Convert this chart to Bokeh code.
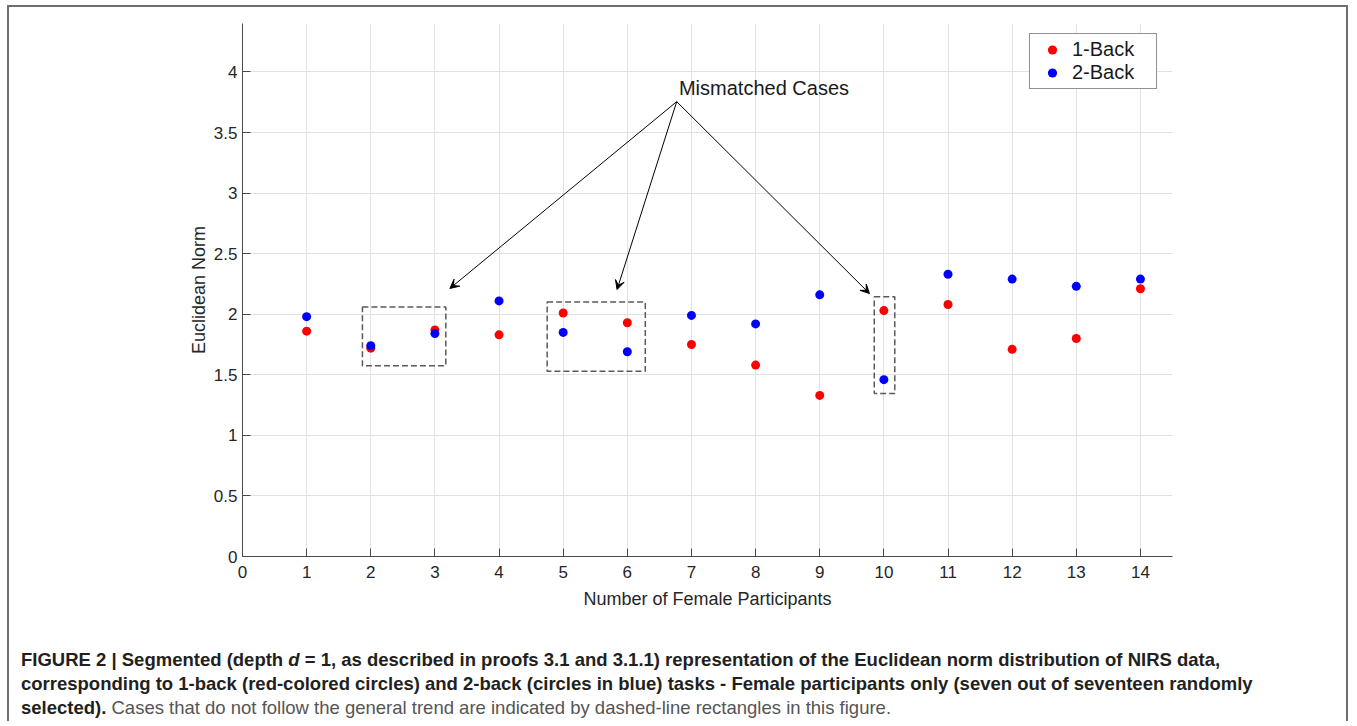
from bokeh.plotting import figure
from bokeh.layouts import column
from bokeh.models import (Arrow, VeeHead, Label, Legend, LegendItem, FixedTicker,
                          NumeralTickFormatter, Range1d, Div)
from bokeh.embed import file_html
from bokeh.resources import INLINE

# ---- data ----
participants = list(range(1, 15))
one_back = [1.86, 1.72, 1.87, 1.83, 2.01, 1.93, 1.75, 1.58, 1.33, 2.03, 2.08, 1.71, 1.80, 2.21]
two_back = [1.98, 1.74, 1.84, 2.11, 1.85, 1.69, 1.99, 1.92, 2.16, 1.46, 2.33, 2.29, 2.23, 2.29]

x_ticks = list(range(0, 15))
y_ticks = [0, 0.5, 1, 1.5, 2, 2.5, 3, 3.5, 4]

# mismatched-case rectangles (data units)
box_left = [1.87, 4.75, 9.85]
box_right = [3.17, 6.28, 10.17]
box_bottom = [1.575, 1.53, 1.345]
box_top = [2.06, 2.10, 2.145]

# annotation arrows
note_text = "Mismatched Cases"
note_x, note_y = 6.805, 3.864
arrow_x0, arrow_y0 = 6.77, 3.755
arrow_x_end = [3.234, 5.84, 9.775]
arrow_y_end = [2.213, 2.204, 2.171]

caption_line_1 = ("FIGURE 2 | Segmented (depth <i>d</i> = 1, as described in proofs 3.1 and 3.1.1) "
                  "representation of the Euclidean norm distribution of NIRS data,")
caption_line_2 = ("corresponding to 1-back (red-colored circles) and 2-back (circles in blue) "
                  "tasks - Female participants only (seven out of seventeen randomly")
caption_line_3_bold = "selected)."
caption_line_3_rest = "Cases that do not follow the general trend are indicated by dashed-line rectangles in this figure."

FONT = "Liberation Sans"
AX = "#4a4a4a"
BORDER = "2px solid #707070"

p = figure(width=1341, height=612, output_backend="svg", toolbar_location=None,
           x_range=Range1d(0, 14.5), y_range=Range1d(0, 4.4),
           min_border_left=233, min_border_right=178, min_border_top=16, min_border_bottom=63)
p.styles = {"border-left": BORDER, "border-top": BORDER, "border-right": BORDER}
p.outline_line_color = None
p.background_fill_color = "white"
p.border_fill_color = "white"

for ax in (p.xaxis[0], p.yaxis[0]):
    ax.axis_line_color = AX
    ax.major_tick_line_color = AX
    ax.major_tick_in = 8
    ax.major_tick_out = 0
    ax.minor_tick_line_color = None
    ax.major_label_text_font = FONT
    ax.major_label_text_font_size = "17px"
    ax.major_label_text_color = "#262626"
    ax.axis_label_text_font = FONT
    ax.axis_label_text_font_size = "18px"
    ax.axis_label_text_font_style = "normal"
    ax.axis_label_text_color = "#262626"

p.xaxis.ticker = FixedTicker(ticks=x_ticks)
p.yaxis.ticker = FixedTicker(ticks=y_ticks)
p.yaxis.formatter = NumeralTickFormatter(format="0.[0]")
p.xaxis.axis_label = "Number of Female Participants"
p.yaxis.axis_label = "Euclidean Norm"
p.xaxis.major_label_standoff = 9
p.yaxis.major_label_standoff = 5
p.xaxis.axis_label_standoff = 8
p.yaxis.axis_label_standoff = 2

p.xgrid.ticker = FixedTicker(ticks=x_ticks)
p.ygrid.ticker = FixedTicker(ticks=y_ticks)
p.grid.grid_line_color = "#e2e2e2"
p.grid.grid_line_width = 1

# rectangles
p.quad(left=box_left, right=box_right, bottom=box_bottom, top=box_top,
       fill_alpha=0, line_color="#5a5a5a", line_width=1.5, line_dash="6 3")

# points
r1 = p.scatter(participants, one_back, size=9, color="#ff0000", line_color=None)
r2 = p.scatter(participants, two_back, size=9, color="#0000ff", line_color=None)

# arrows + text
for xe, ye in zip(arrow_x_end, arrow_y_end):
    p.add_layout(Arrow(x_start=arrow_x0, y_start=arrow_y0, x_end=xe, y_end=ye,
                       line_color="black", line_width=1,
                       end=VeeHead(size=9, fill_color="black", line_color="black", line_width=1)))
p.add_layout(Label(x=note_x, y=note_y, text=note_text, text_font=FONT, text_font_size="20px",
                   text_baseline="middle", text_align="left", text_color="#1a1a1a"))

legend = Legend(items=[LegendItem(label="1-Back", renderers=[r1]),
                       LegendItem(label="2-Back", renderers=[r2])],
                location=(787, 467), padding=4, spacing=0, glyph_width=36, glyph_height=23,
                label_height=23, label_width=80, label_standoff=2, margin=0,
                border_line_color="#262626", border_line_width=1,
                label_text_font=FONT, label_text_font_size="20px", label_text_color="#1a1a1a",
                background_fill_alpha=1)
p.add_layout(legend)

line_style = "white-space:nowrap; height:24px;"
caption_html = (
    "<div style=\"padding:31px 0 0 12px; font-family:'Liberation Sans',Arial,sans-serif;"
    "font-size:18.5px; line-height:24px; color:#231f20;\">"
    f"<div style='{line_style} font-weight:bold;'>{caption_line_1}</div>"
    f"<div style='{line_style} font-weight:bold;'>{caption_line_2}</div>"
    f"<div style='{line_style}'><span style='font-weight:bold;'>{caption_line_3_bold}</span> "
    f"<span style='color:#555555;'>{caption_line_3_rest}</span></div>"
    "</div>"
)
caption = Div(text=caption_html, width=1341, height=104, margin=0,
              styles={"border-left": BORDER, "border-right": BORDER, "background": "white"})

layout = column(p, caption, margin=(5, 0, 0, 7), spacing=0)

open("out.html", "w").write(file_html(layout, INLINE))
